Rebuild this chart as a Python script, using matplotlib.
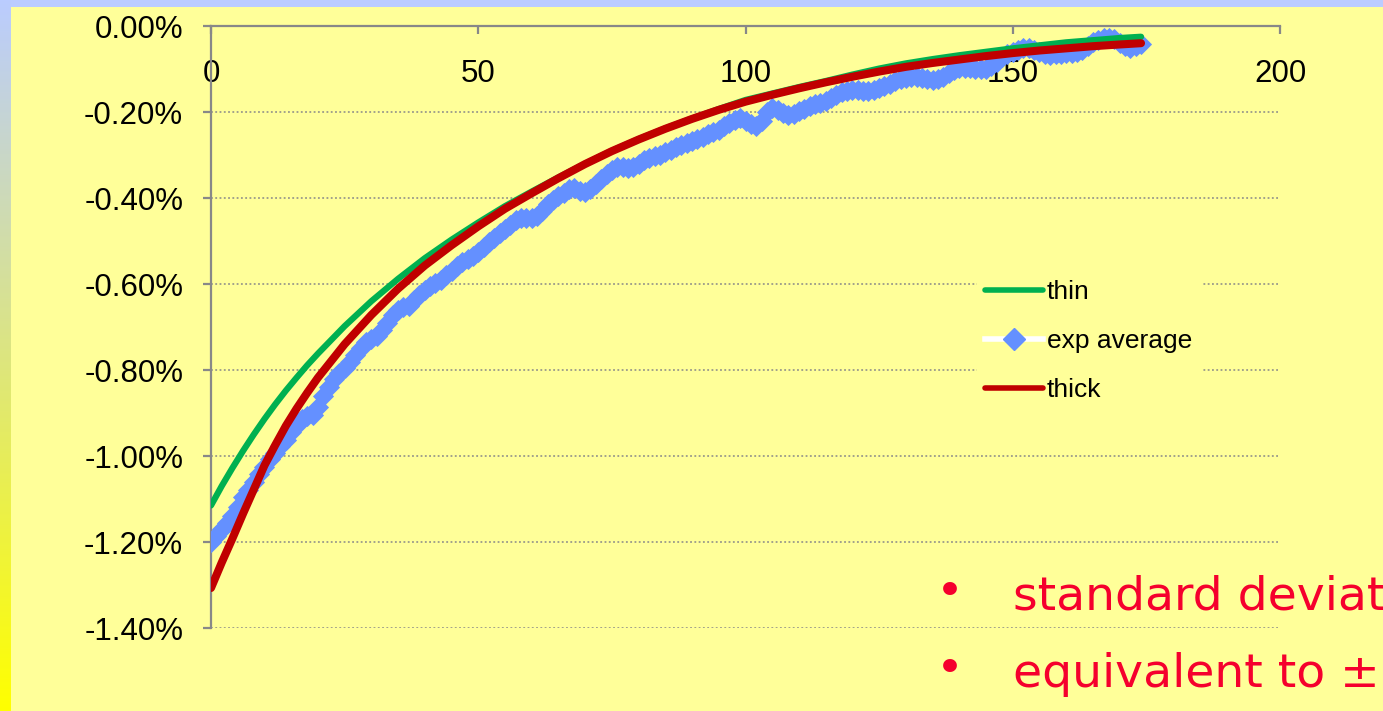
import matplotlib
matplotlib.use("Agg")
import matplotlib.pyplot as plt
import numpy as np
from matplotlib.ticker import FuncFormatter
from matplotlib.lines import Line2D

# ---- data (values in percent) ----
fit_x = [0, 2, 4, 6, 8, 10, 12, 14, 16, 18, 20, 25, 30, 35, 40, 45, 50, 55, 60,
         65, 70, 75, 80, 85, 90, 95, 100, 105, 110, 115, 120, 125, 130, 135,
         140, 145, 150, 155, 160, 165, 170, 174]

thin = [-1.115, -1.070, -1.028, -0.988, -0.950, -0.914, -0.880, -0.848, -0.818,
        -0.789, -0.762, -0.698, -0.640, -0.588, -0.540, -0.497, -0.457, -0.419,
        -0.385, -0.352, -0.320, -0.290, -0.263, -0.238, -0.215, -0.193, -0.172,
        -0.157, -0.142, -0.128, -0.113, -0.099, -0.087, -0.077, -0.068, -0.060,
        -0.052, -0.045, -0.038, -0.033, -0.028, -0.025]

thick = [-1.307, -1.248, -1.192, -1.134, -1.078, -1.022, -0.975, -0.930, -0.890,
         -0.853, -0.818, -0.740, -0.672, -0.611, -0.557, -0.510, -0.466, -0.425,
         -0.389, -0.354, -0.321, -0.291, -0.264, -0.239, -0.216, -0.195, -0.176,
         -0.160, -0.145, -0.131, -0.118, -0.106, -0.095, -0.086, -0.078, -0.070,
         -0.063, -0.057, -0.052, -0.047, -0.043, -0.040]

exp_average = [
    -1.200, -1.185, -1.170, -1.155, -1.140, -1.118, -1.095, -1.078, -1.060, -1.043,
    -1.025, -1.008, -0.992, -0.977, -0.962, -0.945, -0.928, -0.914, -0.908, -0.905,
    -0.885, -0.860, -0.840, -0.822, -0.808, -0.795, -0.782, -0.765, -0.748, -0.735,
    -0.728, -0.722, -0.708, -0.690, -0.672, -0.660, -0.654, -0.650, -0.638, -0.625,
    -0.614, -0.605, -0.598, -0.590, -0.580, -0.569, -0.558, -0.549, -0.542, -0.534,
    -0.525, -0.515, -0.503, -0.492, -0.482, -0.472, -0.462, -0.452, -0.446, -0.446,
    -0.447, -0.443, -0.430, -0.415, -0.404, -0.396, -0.388, -0.380, -0.377, -0.383,
    -0.385, -0.378, -0.367, -0.355, -0.345, -0.336, -0.329, -0.327, -0.330, -0.328,
    -0.320, -0.312, -0.306, -0.303, -0.299, -0.294, -0.288, -0.282, -0.277, -0.272,
    -0.267, -0.262, -0.257, -0.252, -0.247, -0.241, -0.233, -0.225, -0.218, -0.214,
    -0.220, -0.228, -0.232, -0.220, -0.200, -0.191, -0.195, -0.203, -0.207, -0.204,
    -0.198, -0.192, -0.187, -0.182, -0.178, -0.174, -0.168, -0.161, -0.154, -0.150,
    -0.148, -0.149, -0.150, -0.150, -0.148, -0.144, -0.139, -0.134, -0.129, -0.124,
    -0.121, -0.119, -0.119, -0.121, -0.124, -0.126, -0.124, -0.118, -0.110, -0.103,
    -0.098, -0.097, -0.098, -0.100, -0.101, -0.100, -0.093, -0.083, -0.073, -0.065,
    -0.060, -0.055, -0.051, -0.051, -0.055, -0.061, -0.066, -0.067, -0.066, -0.064,
    -0.063, -0.062, -0.060, -0.055, -0.047, -0.038, -0.032, -0.028, -0.027, -0.031,
    -0.039, -0.047, -0.050, -0.047, -0.041]
exp_x = list(range(len(exp_average)))

x_ticks = [0, 50, 100, 150, 200]
y_ticks = [0.0, -0.2, -0.4, -0.6, -0.8, -1.0, -1.2, -1.4]

notes = ["standard deviation", "equivalent to \u00b1"]

# ---- colours ----
BG = "#FFFF99"
GREEN = "#00B050"
RED = "#C00000"
BLUE = "#6490FF"
AXIS_GREY = "#888888"
NOTE_RED = "#F5002D"

W, H = 1383, 711
fig = plt.figure(figsize=(W / 100, H / 100), dpi=100, facecolor=BG)

# slide decoration: top band and left gradient strip
top_band = fig.add_axes([0, 1 - 7 / H, 1, 7 / H])
top_band.axis("off")
top_band.add_patch(plt.Rectangle((0, 0), 1, 1, color="#BBCCFF", transform=top_band.transAxes))

strip = fig.add_axes([0, 0, 11 / W, 1])
strip.axis("off")
top_c = np.array([0.73, 0.80, 1.00])
bot_c = np.array([1.00, 1.00, 0.00])
t = np.linspace(0, 1, 256)[:, None]
grad = (top_c * (1 - t) + bot_c * t)[:, None, :]
strip.imshow(grad, aspect="auto", extent=[0, 1, 0, 1], origin="upper")

# ---- main chart ----
ax = fig.add_axes([211 / W, 1 - 628 / H, (1280 - 211) / W, (628 - 26) / H])
ax.set_facecolor(BG)

ax.plot(exp_x, exp_average, color="white", lw=2, marker="D", markersize=10,
        markerfacecolor=BLUE, markeredgecolor=BLUE, markeredgewidth=0.6, zorder=3)
ax.plot(fit_x, thin, color=GREEN, lw=4.5, solid_capstyle="round", zorder=4)
ax.plot(fit_x, thick, color=RED, lw=5.8, solid_capstyle="round", zorder=5)

ax.set_xlim(0, 200)
ax.set_ylim(-1.4, 0)
ax.set_xticks(x_ticks)
ax.set_yticks(y_ticks)
ax.yaxis.set_major_formatter(FuncFormatter(lambda v, p: "0.00%" if abs(v) < 1e-9 else f"{v:.2f}%"))

for s in ("top", "right"):
    ax.spines[s].set_visible(False)
ax.spines["bottom"].set_position(("data", 0))
for s in ("bottom", "left"):
    ax.spines[s].set_color(AXIS_GREY)
    ax.spines[s].set_linewidth(1.6)

ax.tick_params(axis="x", direction="out", length=6, width=1.6, color=AXIS_GREY,
               labelsize=22.5, pad=18)
ax.tick_params(axis="y", direction="out", length=6, width=1.6, color=AXIS_GREY,
               labelsize=22.5, pad=14)
for lbl in ax.get_xticklabels() + ax.get_yticklabels():
    lbl.set_fontfamily("Liberation Sans")

ax.yaxis.grid(True, linestyle=(0, (1.2, 1.6)), color=AXIS_GREY, lw=1.1)
ax.set_axisbelow(True)

handles = [
    Line2D([], [], color=GREEN, lw=4.0, solid_capstyle="round"),
    Line2D([], [], color="white", lw=4.0, marker="D", markersize=11,
           markerfacecolor=BLUE, markeredgecolor=BLUE),
    Line2D([], [], color=RED, lw=4.0, solid_capstyle="round"),
]
leg = ax.legend(handles, ["thin", "exp average", "thick"], loc="upper left",
                bbox_to_anchor=((977 - 211) / (1280 - 211), 1 - (272 - 26) / (628 - 26)),
                frameon=True, facecolor=BG, edgecolor=BG, framealpha=1,
                prop={"family": "Liberation Sans", "size": 19},
                handlelength=2.2, handletextpad=0.15, labelspacing=0.95,
                borderpad=0.3, borderaxespad=0)
leg.set_zorder(6)

# ---- slide bullet text ----
for i, line in enumerate(notes):
    yb = 1 - (610 + 77 * i) / H
    fig.text(950 / W, yb + 0.005, "\u2022", color=NOTE_RED, fontsize=34,
             ha="center", va="baseline", family="DejaVu Sans")
    fig.text(1013 / W, yb, line, color=NOTE_RED, fontsize=34,
             ha="left", va="baseline", family="DejaVu Sans")

fig.savefig("out.png", dpi=100, facecolor=BG)
